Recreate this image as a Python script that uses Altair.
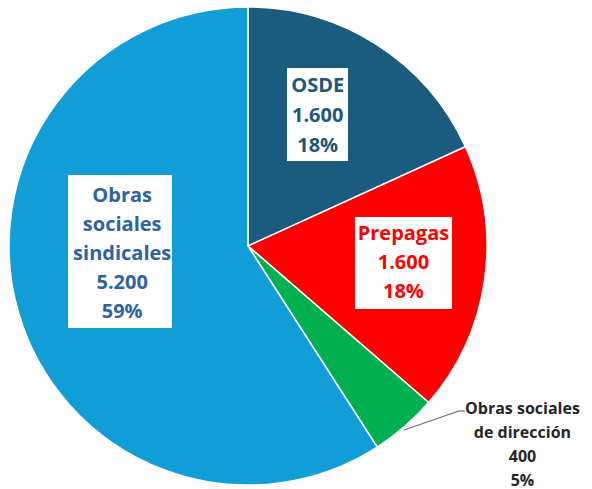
import math
import altair as alt
import pandas as pd

# ---- data ----
categories = ["OSDE", "Prepagas", "Obras sociales de dirección", "Obras sociales sindicales"]
name_lines = [["OSDE"], ["Prepagas"], ["Obras sociales", "de dirección"], ["Obras", "sociales", "sindicales"]]
values = [1600, 1600, 400, 5200]
percent_labels = ["18%", "18%", "5%", "59%"]
value_labels = ["1.600", "1.600", "400", "5.200"]

# ---- styles ----
slice_colors = ["#1a5b7e", "#ff0000", "#00b050", "#119ed6"]
text_colors = ["#1d5878", "#ff0000", "#262626", "#2d62a3"]
FONT = "Open Sans"
CX, CY, R = 248, 246, 239

df = pd.DataFrame({
    "category": categories,
    "value": values,
    "order": list(range(len(categories))),
    "label": ["\n".join(n + [v, p]) for n, v, p in zip(name_lines, value_labels, percent_labels)],
})

base = alt.Chart(df)

arcs = base.mark_arc(outerRadius=R, stroke="white", strokeWidth=1.5).encode(
    theta=alt.Theta("value:Q", stack=True),
    order=alt.Order("order:Q"),
    color=alt.Color("category:N", scale=alt.Scale(domain=categories, range=slice_colors), legend=None),
    x=alt.value(CX),
    y=alt.value(CY),
)

# cumulative angles for label placement
lab_base = base.transform_window(
    cum="sum(value)", sort=[alt.SortField("order")]
).transform_joinaggregate(
    total="sum(value)"
).transform_calculate(
    mid="2*PI*(datum.cum - datum.value/2)/datum.total"
)

# label specs: category, radius, dx, dy, font size, line height, box (x, x2, y, y2) or None
label_specs = [
    ("OSDE", 140, -6, -42, 20, 30, (287, 348, 68, 161)),
    ("Prepagas", 155, 2, -34, 20, 29, (355, 452, 217, 309)),
    ("Obras sociales sindicales", 128, -3, -86, 20, 29, (68, 172, 175, 328)),
    ("Obras sociales de dirección", 300, 78, -64, 16, 24, None),
]

layers = [arcs]
for cat, rad, dx, dy, fs, lh, box in label_specs:
    i = categories.index(cat)
    sub = lab_base.transform_filter(alt.datum.category == cat)
    if box is not None:
        layers.append(
            sub.mark_rect(color="white").encode(
                x=alt.value(box[0]), x2=alt.value(box[1]),
                y=alt.value(box[2]), y2=alt.value(box[3]),
            )
        )
    else:
        layers.append(
            sub.mark_rule(color="#6d6d6d", strokeWidth=1.2).encode(
                x=alt.value(404), x2=alt.value(459), y=alt.value(430), y2=alt.value(411)
            )
        )
        layers.append(
            sub.mark_rule(color="#6d6d6d", strokeWidth=1.2).encode(
                x=alt.value(459), x2=alt.value(465), y=alt.value(411), y2=alt.value(411)
            )
        )
    layers.append(
        sub.mark_text(
            radius=rad, dx=dx, dy=dy, font=FONT, fontWeight="bold", fontSize=fs,
            lineHeight=lh, lineBreak="\n", align="center", baseline="middle",
            color=text_colors[i],
        ).encode(
            theta=alt.Theta("mid:Q", scale=None, stack=False),
            x=alt.value(CX),
            y=alt.value(CY),
            text="label:N",
        )
    )

chart = alt.layer(*layers).properties(
    width=592, height=489, autosize=alt.AutoSizeParams(type="none"), padding=0
).configure_view(stroke=None)

chart.save("out.html", embed_options={"renderer": "svg", "actions": False})
